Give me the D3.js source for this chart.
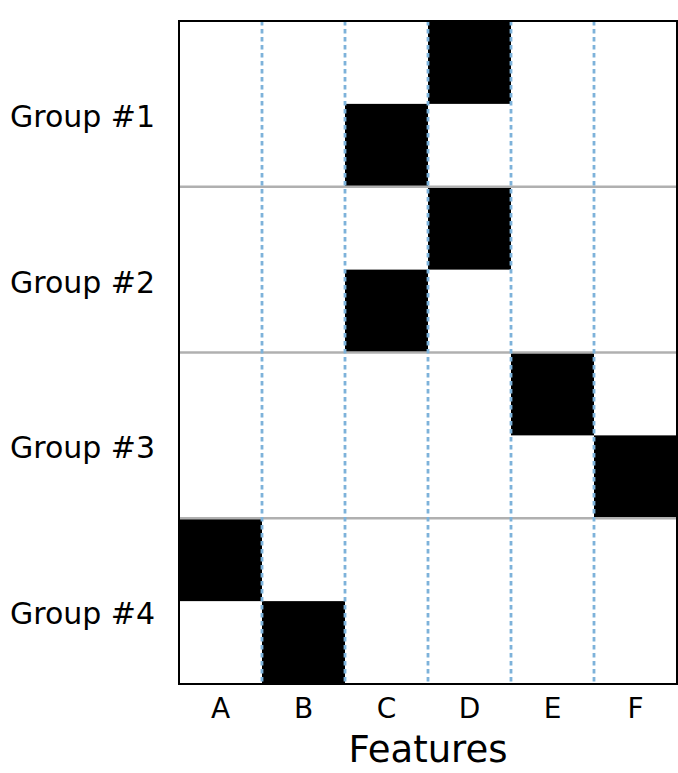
<!DOCTYPE html>
<html>
<head>
<meta charset="utf-8">
<script src="https://cdn.jsdelivr.net/npm/d3@7"></script>
<style>
body { margin: 0; background: #fff; }
text { font-family: "DejaVu Sans", sans-serif; fill: #000; }
</style>
</head>
<body>
<script>
// data
var features = ["A", "B", "C", "D", "E", "F"];
var groups = ["Group #1", "Group #2", "Group #3", "Group #4"];
// one row per sub-row, 2 rows per group, 1 = black cell
var matrix = [
    [0, 0, 0, 1, 0, 0],
    [0, 0, 1, 0, 0, 0],
    [0, 0, 0, 1, 0, 0],
    [0, 0, 1, 0, 0, 0],
    [0, 0, 0, 0, 1, 0],
    [0, 0, 0, 0, 0, 1],
    [1, 0, 0, 0, 0, 0],
    [0, 1, 0, 0, 0, 0]
];

var W = 678, H = 773;
var margin = {top: 21, right: 1, bottom: 89, left: 179},
    width = W - margin.left - margin.right,
    height = H - margin.top - margin.bottom;

var svg = d3.select("body").append("svg")
    .attr("width", W)
    .attr("height", H);

var g = svg.append("g")
    .attr("transform", "translate(" + margin.left + "," + margin.top + ")");

var x = d3.scaleBand().domain(features).range([0, width]);
var rows = d3.range(matrix.length);
var y = d3.scaleBand().domain(rows).range([0, height]);
var yg = d3.scaleBand().domain(groups).range([0, height]);

// cells
var cells = [];
matrix.forEach(function(r, i) {
    r.forEach(function(v, j) {
        if (v) cells.push({row: i, col: features[j]});
    });
});
g.selectAll(".cell")
    .data(cells)
    .enter().append("rect")
    .attr("class", "cell")
    .attr("x", function(d) { return x(d.col); })
    .attr("y", function(d) { return y(d.row); })
    .attr("width", x.bandwidth())
    .attr("height", y.bandwidth())
    .attr("fill", "#000");

// group separators
g.selectAll(".sep")
    .data(groups.slice(1))
    .enter().append("line")
    .attr("class", "sep")
    .attr("x1", 0).attr("x2", width)
    .attr("y1", function(d) { return yg(d); })
    .attr("y2", function(d) { return yg(d); })
    .attr("stroke", "#b0b0b0")
    .attr("stroke-width", 2.5);

// dotted column lines
g.selectAll(".vline")
    .data(features.slice(1))
    .enter().append("line")
    .attr("class", "vline")
    .attr("x1", function(d) { return x(d); })
    .attr("x2", function(d) { return x(d); })
    .attr("y1", 0).attr("y2", height)
    .attr("stroke", "#7db2da")
    .attr("stroke-width", 2.8)
    .attr("stroke-dasharray", "4.5,3.5");

// frame
g.append("rect")
    .attr("width", width)
    .attr("height", height)
    .attr("fill", "none")
    .attr("stroke", "#000")
    .attr("stroke-width", 2);

// x axis labels
var xAxis = g.append("g")
    .attr("transform", "translate(0," + height + ")")
    .call(d3.axisBottom(x).tickSize(0).tickPadding(14));
xAxis.select(".domain").remove();
xAxis.selectAll("text")
    .attr("font-size", "28px")
    .attr("font-family", "DejaVu Sans")
    .attr("fill", "#000");

// y axis labels
g.selectAll(".glabel")
    .data(groups)
    .enter().append("text")
    .attr("class", "glabel")
    .attr("x", 10 - margin.left)
    .attr("y", function(d) { return yg(d) + yg.bandwidth() / 2 + 23; })
    .attr("font-size", "30px")
    .text(function(d) { return d; });

// x title
svg.append("text")
    .attr("x", margin.left + width / 2)
    .attr("y", 762)
    .attr("text-anchor", "middle")
    .attr("font-size", "37px")
    .text("Features");
</script>
</body>
</html>
